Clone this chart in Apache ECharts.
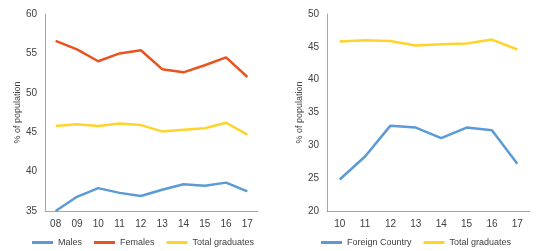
<!DOCTYPE html>
<html>
<head>
<meta charset="utf-8">
<script src="https://cdn.jsdelivr.net/npm/echarts@6/dist/echarts.min.js"></script>
<style>
  html, body { margin: 0; padding: 0; background: #fff; }
  #main { width: 538px; height: 251px; }
</style>
</head>
<body>
<div id="main"></div>
<script>
// left panel: by sex
var yearsLeft = ['08', '09', '10', '11', '12', '13', '14', '15', '16', '17'];
var males = [35.0, 36.8, 37.9, 37.3, 36.9, 37.7, 38.4, 38.2, 38.6, 37.5];
var females = [56.6, 55.5, 54.0, 55.0, 55.4, 53.0, 52.6, 53.5, 54.5, 52.0];
var totalLeft = [45.8, 46.0, 45.8, 46.1, 45.9, 45.1, 45.3, 45.5, 46.2, 44.7];

// right panel: foreign country
var yearsRight = ['10', '11', '12', '13', '14', '15', '16', '17'];
var foreign = [24.8, 28.3, 33.0, 32.7, 31.1, 32.7, 32.3, 27.2];
var totalRight = [45.8, 46.0, 45.9, 45.2, 45.4, 45.5, 46.1, 44.6];

var BLUE = '#5b9bd5', ORANGE = '#e8531f', YELLOW = '#ffd42a';
var font = 'Liberation Sans, Arial, sans-serif';

function xAx(idx, data) {
    return {
        type: 'category', gridIndex: idx, data: data, boundaryGap: true,
        axisLine: { lineStyle: { color: '#a6a6a6' } },
        axisTick: { show: false },
        axisLabel: { color: '#404040', fontSize: 10, fontFamily: font, margin: 8 }
    };
}
function yAx(idx, min, max) {
    return {
        type: 'value', gridIndex: idx, min: min, max: max, interval: 5,
        name: '% of population', nameLocation: 'middle', nameGap: 22,
        nameTextStyle: { color: '#404040', fontSize: 9, fontFamily: font },
        axisLine: { show: true, lineStyle: { color: '#a6a6a6' } },
        axisTick: { show: false },
        splitLine: { show: false },
        axisLabel: { color: '#404040', fontSize: 10, fontFamily: font, margin: 8 }
    };
}
function line(name, data, color, idx) {
    return {
        name: name, type: 'line', data: data, xAxisIndex: idx, yAxisIndex: idx,
        symbol: 'none', color: color, lineStyle: { width: 2.5, color: color }
    };
}
function legend(names, left) {
    return {
        data: names, left: left, top: 233,
        icon: 'rect', itemWidth: 21, itemHeight: 3, itemGap: 12,
        textStyle: { color: '#404040', fontSize: 9, fontFamily: font }
    };
}

var chart = echarts.init(document.getElementById('main'));
chart.setOption({
    animation: false,
    textStyle: { fontFamily: font },
    grid: [
        { left: 45, top: 14, width: 213, height: 197 },
        { left: 327, top: 14, width: 203, height: 197 }
    ],
    legend: [
        legend(['Males', 'Females', 'Total graduates'], 27),
        legend(['Foreign Country', 'Total graduates'], 316)
    ],
    xAxis: [xAx(0, yearsLeft), xAx(1, yearsRight)],
    yAxis: [yAx(0, 35, 60), yAx(1, 20, 50)],
    series: [
        line('Males', males, BLUE, 0),
        line('Females', females, ORANGE, 0),
        line('Total graduates', totalLeft, YELLOW, 0),
        line('Foreign Country', foreign, BLUE, 1),
        line('Total graduates', totalRight, YELLOW, 1)
    ]
});
</script>
</body>
</html>
